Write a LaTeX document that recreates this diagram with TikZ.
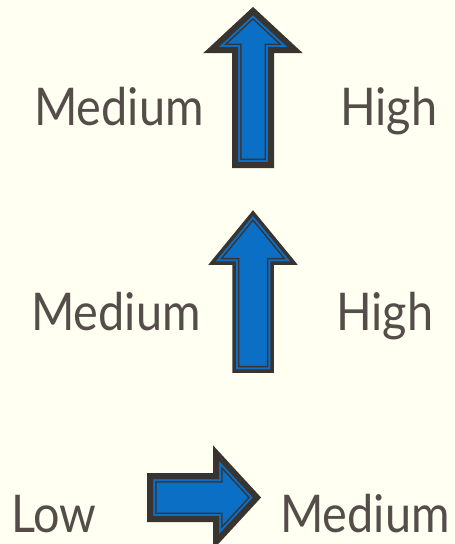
\documentclass[tikz,border=0pt]{standalone}
\usepackage{fontspec}
\setmainfont{Lato}
\definecolor{paper}{HTML}{FFFFF2}
\definecolor{arrowblue}{HTML}{0B6FC6}
\definecolor{arrowdark}{HTML}{3A3431}
\definecolor{labelgray}{HTML}{544D4A}

% block arrow: #1 outline width, #2 outline path (without cycle)
\newcommand{\blockarrow}[2]{%
  \fill[arrowblue] #2 -- cycle;
  \begin{scope}
    \clip #2 -- cycle;
    \draw[arrowdark, line width=#1+7pt] #2 -- cycle;
    \draw[arrowblue, line width=#1+4pt] #2 -- cycle;
  \end{scope}
  \draw[arrowdark, line width=#1] #2 -- cycle;
}
% narrower label text
\newcommand{\lbltext}[1]{\scalebox{0.9}[1]{#1}}

\begin{document}
\begin{tikzpicture}[x=1pt, y=-1pt,
  lbl/.style={font=\fontsize{52}{52}\selectfont, text=labelgray, inner sep=0pt, anchor=base west}]
\fill[paper] (0,0) rectangle (455,544);
\useasboundingbox (0,0) rectangle (455,544);

% arrows
\blockarrow{6pt}{(235,165) -- (235,50) -- (211,50) -- (253,11) -- (295,50) -- (271,50) -- (271,165)}
\blockarrow{3.5pt}{(234,371) -- (234,263) -- (212,263) -- (253,213) -- (294,263) -- (272,263) -- (272,371)}
\blockarrow{6pt}{(150,476) -- (216,476) -- (216,453) -- (257,497.5) -- (216,542) -- (216,519) -- (150,519)}

% labels
\node[lbl] (med1) at (34,125) {\lbltext{Medium}};
\node[lbl] (high1) at (340,125) {\lbltext{High}};
\node[lbl] (med2) at (31,330) {\lbltext{Medium}};
\node[lbl] (high2) at (336,330) {\lbltext{High}};
\node[lbl] (low) at (11,532) {\lbltext{Low}};
\node[lbl] (med3) at (280,532) {\lbltext{Medium}};
\end{tikzpicture}
\end{document}
